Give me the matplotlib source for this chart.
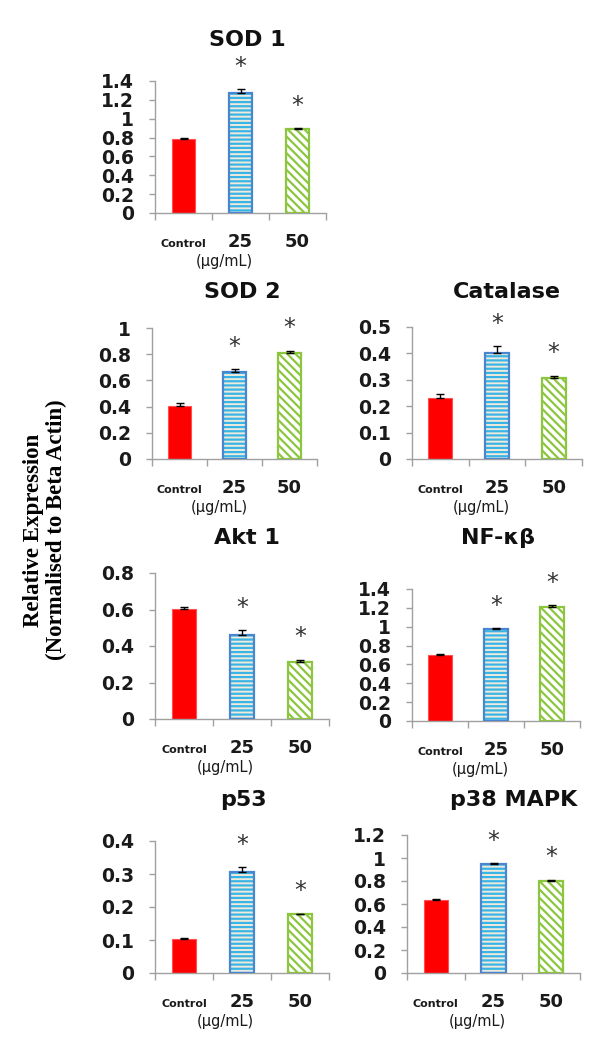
import matplotlib
matplotlib.use("Agg")
import matplotlib.pyplot as plt
import numpy as np

# data
categories = ['Control', '25', '50']
genes = ['SOD 1', 'SOD 2', 'Catalase', 'Akt 1', 'NF-κβ', 'p53', 'p38 MAPK']

sod1_mean = [0.785, 1.276, 0.894]
sod1_err = [0.015, 0.035, 0.005]
sod2_mean = [0.407, 0.662, 0.807]
sod2_err = [0.02, 0.022, 0.02]
catalase_mean = [0.232, 0.400, 0.308]
catalase_err = [0.014, 0.027, 0.008]
akt1_mean = [0.601, 0.460, 0.314]
akt1_err = [0.01, 0.027, 0.011]
nfkb_mean = [0.700, 0.972, 1.210]
nfkb_err = [0.006, 0.01, 0.02]
p53_mean = [0.103, 0.307, 0.179]
p53_err = [0.002, 0.013, 0.001]
p38_mean = [0.635, 0.948, 0.803]
p38_err = [0.005, 0.01, 0.01]

means = [sod1_mean, sod2_mean, catalase_mean, akt1_mean, nfkb_mean, p53_mean, p38_mean]
errs = [sod1_err, sod2_err, catalase_err, akt1_err, nfkb_err, p53_err, p38_err]
ymax = [1.4, 1.0, 0.5, 0.8, 1.4, 0.4, 1.2]
ystep = [0.2, 0.2, 0.1, 0.2, 0.2, 0.1, 0.2]
stars = [[False, True, True]] * 7

# panel boxes in pixels: x0, ytop, x1, ybottom ; title centre x, y
W, H = 600, 1045
boxes = [(155, 81, 326, 213), (152, 328, 317, 459), (412, 327, 582, 459),
         (155, 573, 329, 719), (412, 589, 580, 721), (155, 841, 329, 973),
         (407, 835, 580, 973)]
title_pos = [(247, 40), (242, 292), (507, 292), (247, 538), (498, 538),
             (243, 800), (514, 800)]

AX_GREY = '#a0a0a0'
SANS = ['DejaVu Sans']

plt.rcParams['hatch.linewidth'] = 1.6

fig = plt.figure(figsize=(W / 100, H / 100), dpi=100)

for k, gene in enumerate(genes):
    x0, yt, x1, yb = boxes[k]
    ax = fig.add_axes([x0 / W, 1 - yb / H, (x1 - x0) / W, (yb - yt) / H])
    x = np.arange(len(categories))
    m = means[k]
    e = errs[k]
    bw = 0.42

    # control: solid red
    ax.bar(x[0], m[0], bw, color='#ff0000', edgecolor='#ff5050', linewidth=0.8, zorder=2)
    # 25 ug/mL: horizontal stripes
    ax.bar(x[1], m[1], bw, color='#efeadb', edgecolor='#38b4e6', hatch='----',
           linewidth=0, zorder=2)
    ax.bar(x[1], m[1], bw, fill=False, edgecolor='#4a86d0', linewidth=1.6, zorder=3)
    # 50 ug/mL: diagonal stripes
    ax.bar(x[2], m[2], bw, color='white', edgecolor='#8cc63f', hatch=r'\\\\',
           linewidth=0, zorder=2)
    ax.bar(x[2], m[2], bw, fill=False, edgecolor='#8cc63f', linewidth=1.6, zorder=3)

    ax.errorbar(x, m, yerr=[np.zeros(3), e], fmt='none', ecolor='black',
                elinewidth=1, capsize=3.2, capthick=1, zorder=4)

    for i in range(3):
        if stars[k][i]:
            ax.annotate('*', xy=(x[i], m[i] + e[i]), xytext=(0, 11),
                        textcoords='offset points', ha='center', va='baseline',
                        fontsize=17, color='#333333', family=SANS)

    ax.set_xlim(-0.5, 2.5)
    ax.set_ylim(0, ymax[k])
    ax.set_xticks([-0.5, 0.5, 1.5, 2.5])
    ax.set_xticklabels([])
    ticks = np.round(np.arange(0, ymax[k] + 1e-9, ystep[k]), 2)
    ax.set_yticks(ticks)
    ax.set_yticklabels([f'{t:g}' for t in ticks], fontsize=13.5, fontweight='bold',
                       family=SANS, color='#1a1a1a')
    ax.tick_params(axis='x', direction='out', length=5, color=AX_GREY, width=1)
    ax.tick_params(axis='y', direction='out', length=4, color=AX_GREY, width=1, pad=11)
    for s in ['top', 'right']:
        ax.spines[s].set_visible(False)
    for s in ['left', 'bottom']:
        ax.spines[s].set_color(AX_GREY)
        ax.spines[s].set_linewidth(1)

    # category labels
    for i, c in enumerate(categories):
        fs = 8 if c == 'Control' else 13
        ax.annotate(c, xy=(x[i], 0), xycoords=('data', 'axes fraction'),
                    xytext=(0, -24.5), textcoords='offset points', ha='center',
                    va='baseline', fontsize=fs, fontweight='bold', family=SANS,
                    color='#1a1a1a')
    ax.annotate('(µg/mL)', xy=(0.72, 0), xycoords=('data', 'axes fraction'),
                xytext=(0, -35), textcoords='offset points', ha='center',
                va='center', fontsize=10.5, family=SANS, color='#1a1a1a')

    tx, ty = title_pos[k]
    fig.text(tx / W, 1 - ty / H, gene, ha='center', va='center', fontsize=16,
             fontweight='bold', family=SANS, color='#111111')

fig.text(45 / W, 1 - 530 / H, 'Relative Expression\n(Normalised to Beta Actin)',
         rotation=90, ha='center', va='center', multialignment='center',
         fontsize=16.5, fontweight='bold', family='Liberation Serif',
         linespacing=1.1, color='black')

fig.savefig('out.png', dpi=100, facecolor='white')
